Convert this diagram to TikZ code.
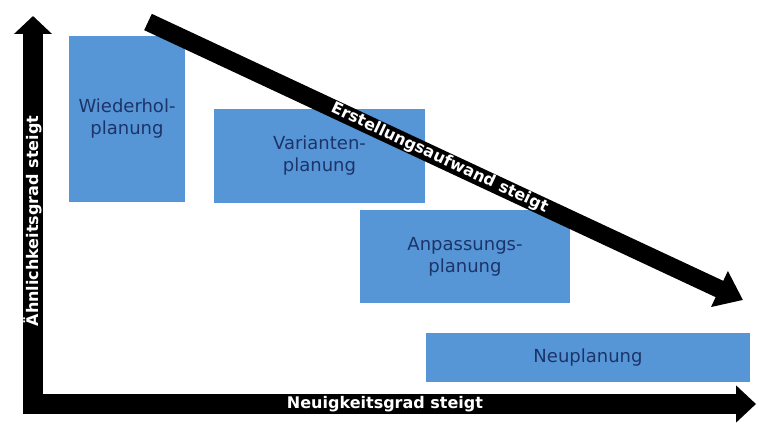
\documentclass[tikz,border=0pt]{standalone}
\usepackage{fontspec}
\setmainfont{DejaVu Sans}
\usetikzlibrary{arrows.meta}

\definecolor{planblue}{RGB}{86,150,214}
\definecolor{plantext}{RGB}{28,52,105}

\begin{document}
\begin{tikzpicture}[x=1pt,y=-1pt]
    \tikzstyle{box} = [fill=planblue, text=plantext, align=center, inner sep=0pt, font=\fontsize{18}{22}\selectfont]
    \tikzstyle{axis} = [line width=20pt, {Triangle[width=37pt,length=18pt]}-{Triangle[width=36pt,length=20pt]}]
    \tikzstyle{arrow} = [line width=18pt, -{Triangle[width=38pt,length=26pt]}]
    \tikzstyle{barlabel} = [text=white, inner sep=0pt, font=\fontsize{16}{18}\selectfont\bfseries]
    \useasboundingbox (0,0) rectangle (759,425);

    % Planning boxes, from repeat planning to new planning
    \node [box, minimum width=116pt, minimum height=166pt] (Wiederhol) at (127,119) {Wiederhol-\\planung};
    \node [box, minimum width=211pt, minimum height=94pt] (Varianten) at (319.5,156) {Varianten-\\planung};
    \node [box, minimum width=210pt, minimum height=93pt] (Anpassung) at (465,256.5) {Anpassungs-\\planung};
    \node [box, minimum width=324pt, minimum height=49pt] (Neu) at (588,357.5) {Neuplanung};

    % Axes, one path with the corner at the origin
    \coordinate (Origin) at (33,404);
    \coordinate (YTop) at (33,16);
    \coordinate (XEnd) at (756,404);
    \draw [axis] (YTop) -- (Origin) -- (XEnd);

      % Axis labels, white on the black bars
      \node [barlabel, rotate=90] (YLabel) at (33,221) {Ähnlichkeitsgrad steigt};
      \node [barlabel] (XLabel) at (385,404) {Neuigkeitsgrad steigt};

    % Diagonal effort arrow
    \coordinate (EffortStart) at (148,22);
    \coordinate (EffortEnd) at (743,300);
    \draw [arrow] (EffortStart) -- node [barlabel, sloped, pos=0.49] (EffortLabel) {Erstellungsaufwand steigt} (EffortEnd);
\end{tikzpicture}
\end{document}
